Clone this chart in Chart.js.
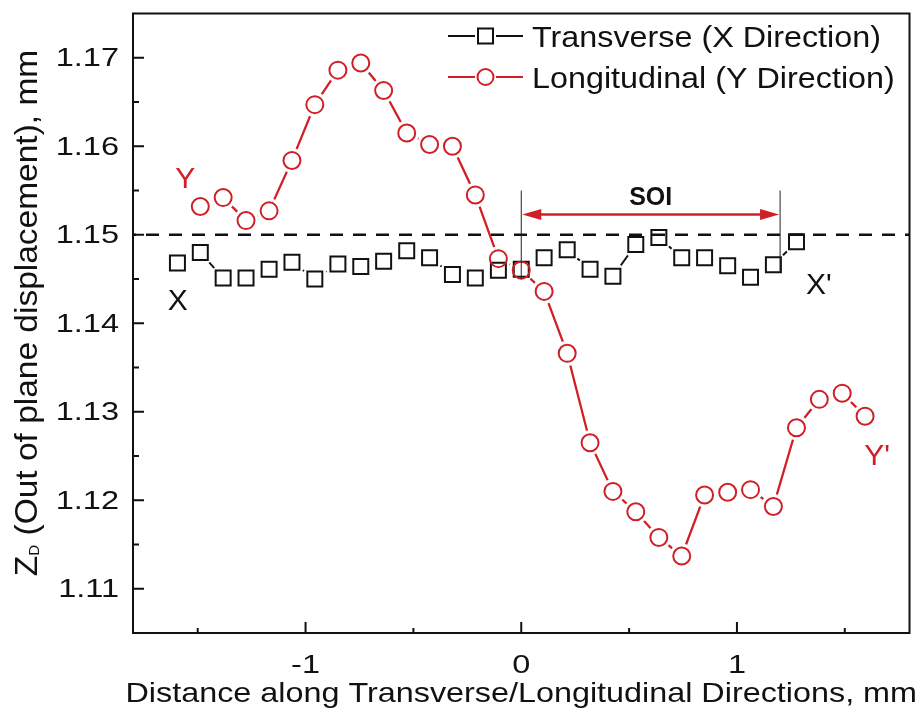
<!DOCTYPE html>
<html>
<head>
<meta charset="utf-8">
<script src="https://cdn.jsdelivr.net/npm/chart.js@4.4.1/dist/chart.umd.min.js"></script>
<style>
  html, body { margin: 0; padding: 0; background: #fff; }
  #wrap { width: 923px; height: 712px; position: relative; }
</style>
</head>
<body>
<div id="wrap"><canvas id="chart"></canvas></div>
<script>
// ── Data ───────────────────────────────────────────
const transX = [-1.594, -1.488, -1.382, -1.276, -1.169, -1.063, -0.957, -0.850, -0.744, -0.638,
                -0.531, -0.425, -0.319, -0.213, -0.106, 0, 0.106, 0.213, 0.319, 0.425,
                0.531, 0.638, 0.744, 0.850, 0.957, 1.063, 1.169, 1.276];
const transY = [1.1468, 1.1480, 1.1451, 1.1451, 1.1461, 1.1469, 1.1450, 1.1467, 1.1464, 1.1470,
                1.1482, 1.1474, 1.1455, 1.1451, 1.1460, 1.1461, 1.1474, 1.1483, 1.1461, 1.1453,
                1.1489, 1.1497, 1.1474, 1.1474, 1.1465, 1.1452, 1.1466, 1.1492];

const longX = [-1.488, -1.382, -1.276, -1.169, -1.063, -0.957, -0.850, -0.744, -0.638, -0.531,
               -0.425, -0.319, -0.213, -0.106, 0, 0.106, 0.213, 0.319, 0.425, 0.531,
               0.638, 0.744, 0.850, 0.957, 1.063, 1.169, 1.276, 1.382, 1.488, 1.594];
const longY = [1.1532, 1.1542, 1.1516, 1.1527, 1.1584, 1.1647, 1.1686, 1.1694, 1.1663, 1.1615,
               1.1602, 1.1600, 1.1545, 1.1473, 1.1460, 1.1436, 1.1366, 1.1265, 1.1210, 1.1187,
               1.1158, 1.1137, 1.1206, 1.1209, 1.1212, 1.1193, 1.1282, 1.1314, 1.1321, 1.1295];

const seriesNames = ['Transverse (X Direction)', 'Longitudinal (Y Direction)'];

const xMajor = [-1, 0, 1];
const xMinor = [-1.5, -0.5, 0.5, 1.5];
const yMajor = [1.11, 1.12, 1.13, 1.14, 1.15, 1.16, 1.17];
const yMinor = [1.115, 1.125, 1.135, 1.145, 1.155, 1.165];
const xTickLabels = ['-1', '0', '1'];
const yTickLabels = ['1.11', '1.12', '1.13', '1.14', '1.15', '1.16', '1.17'];

const refLevel = 1.15;          // dashed reference line
const soiRange = [0, 1.2];      // SOI span

const BLACK = '#111';
const RED = '#D01F26';
const FONT = '"Liberation Sans", Arial, sans-serif';

const pts = (xs, ys) => xs.map((x, i) => ({ x, y: ys[i] }));
const trans = pts(transX, transY);
const long = pts(longX, longY);

// text helper, sx = horizontal stretch
const txt = (ctx, s, x, y, o = {}) => {
  ctx.save();
  ctx.font = o.font || `26px ${FONT}`;
  ctx.fillStyle = o.color || BLACK;
  ctx.textAlign = o.align || 'left';
  ctx.textBaseline = 'alphabetic';
  ctx.translate(x, y);
  if (o.rot) ctx.rotate(o.rot);
  ctx.scale(o.sx || 1, 1);
  ctx.fillText(s, 0, 0);
  ctx.restore();
};

// halo datasets punch a gap in the lines around each symbol (Origin style)
const knockout = {
  id: 'knockout',
  beforeDatasetDraw(chart, args) {
    if (chart.data.datasets[args.index].halo) {
      chart.ctx.save();
      chart.ctx.globalCompositeOperation = 'destination-out';
    }
  },
  afterDatasetDraw(chart, args) {
    if (chart.data.datasets[args.index].halo) chart.ctx.restore();
  }
};

const decor = {
  id: 'decor',
  afterDatasetsDraw(chart) {
    const { ctx, chartArea: a, scales: { x, y } } = chart;
    ctx.save();
    // dashed reference line
    ctx.strokeStyle = BLACK;
    ctx.lineWidth = 2.5;
    ctx.setLineDash([13, 10]);
    ctx.lineDashOffset = 10;
    ctx.beginPath();
    ctx.moveTo(a.left, y.getPixelForValue(refLevel));
    ctx.lineTo(a.right, y.getPixelForValue(refLevel));
    ctx.stroke();
    ctx.setLineDash([]);

    // SOI bracket
    const x0 = x.getPixelForValue(soiRange[0]), x1 = x.getPixelForValue(soiRange[1]);
    ctx.lineWidth = 1;
    ctx.strokeStyle = '#222';
    ctx.beginPath();
    ctx.moveTo(x0, y.getPixelForValue(1.155)); ctx.lineTo(x0, y.getPixelForValue(1.145));
    ctx.moveTo(x1, y.getPixelForValue(1.155)); ctx.lineTo(x1, y.getPixelForValue(1.1458));
    ctx.stroke();

    const ay = y.getPixelForValue(1.1523), head = 20, hw = 5.5;
    ctx.strokeStyle = RED; ctx.fillStyle = RED; ctx.lineWidth = 2.5;
    ctx.beginPath(); ctx.moveTo(x0 + head - 2, ay); ctx.lineTo(x1 - head + 2, ay); ctx.stroke();
    ctx.beginPath(); ctx.moveTo(x0 + 1, ay); ctx.lineTo(x0 + head, ay - hw); ctx.lineTo(x0 + head, ay + hw); ctx.closePath(); ctx.fill();
    ctx.beginPath(); ctx.moveTo(x1 - 1, ay); ctx.lineTo(x1 - head, ay - hw); ctx.lineTo(x1 - head, ay + hw); ctx.closePath(); ctx.fill();
    ctx.restore();

    txt(ctx, 'SOI', (x0 + x1) / 2, y.getPixelForValue(1.1534), { font: `bold 25px ${FONT}`, align: 'center' });

    // end markers of the two scan lines
    txt(ctx, 'Y', x.getPixelForValue(-1.558), y.getPixelForValue(1.1553), { font: `30px ${FONT}`, color: RED, align: 'center' });
    txt(ctx, 'X', x.getPixelForValue(-1.593), y.getPixelForValue(1.1415), { font: `30px ${FONT}`, align: 'center' });
    txt(ctx, "X'", x.getPixelForValue(1.32), y.getPixelForValue(1.1433), { font: `30px ${FONT}` });
    txt(ctx, "Y'", x.getPixelForValue(1.59), y.getPixelForValue(1.124), { font: `30px ${FONT}`, color: RED });
  },
  afterDraw(chart) {
    const { ctx, chartArea: a, scales: { x, y } } = chart;
    ctx.save();
    ctx.strokeStyle = BLACK;
    ctx.lineWidth = 2;
    ctx.strokeRect(a.left, a.top, a.right - a.left, a.bottom - a.top);

    // inward ticks, left and bottom only
    ctx.beginPath();
    yMajor.forEach(v => { const p = y.getPixelForValue(v); ctx.moveTo(a.left, p); ctx.lineTo(a.left + 11, p); });
    yMinor.forEach(v => { const p = y.getPixelForValue(v); ctx.moveTo(a.left, p); ctx.lineTo(a.left + 6, p); });
    xMajor.forEach(v => { const p = x.getPixelForValue(v); ctx.moveTo(p, a.bottom); ctx.lineTo(p, a.bottom - 11); });
    xMinor.forEach(v => { const p = x.getPixelForValue(v); ctx.moveTo(p, a.bottom); ctx.lineTo(p, a.bottom - 5); });
    ctx.stroke();
    ctx.restore();

    const tickFont = `25px ${FONT}`;
    yMajor.forEach((v, i) => txt(ctx, yTickLabels[i], a.left - 14, y.getPixelForValue(v) + 8.5, { font: tickFont, align: 'right', sx: 1.3 }));
    xMajor.forEach((v, i) => txt(ctx, xTickLabels[i], x.getPixelForValue(v), a.bottom + 40, { font: tickFont, align: 'center', sx: 1.3 }));

    // axis titles
    txt(ctx, 'Distance along Transverse/Longitudinal Directions, mm', (a.left + a.right) / 2, 702,
        { font: `28px ${FONT}`, align: 'center', sx: 1.155 });

    ctx.save();
    ctx.translate(37, 313);
    ctx.rotate(-Math.PI / 2);
    ctx.scale(1.08, 1);
    ctx.fillStyle = BLACK;
    ctx.textBaseline = 'alphabetic';
    const big = `31px ${FONT}`, small = `14px ${FONT}`;
    const rest = ' (Out of plane displacement), mm';
    ctx.font = big; const wZ = ctx.measureText('Z').width, wR = ctx.measureText(rest).width;
    ctx.font = small; const wD = ctx.measureText('D').width;
    let sx0 = -(wZ + wD + wR) / 2;
    ctx.font = big; ctx.fillText('Z', sx0, 0);
    ctx.font = small; ctx.fillText('D', sx0 + wZ, 2);
    ctx.font = big; ctx.fillText(rest, sx0 + wZ + wD, 0);
    ctx.restore();

    // legend
    const rows = [
      { y: 36, color: BLACK, sym: 'rect', label: seriesNames[0] },
      { y: 77, color: RED, sym: 'circle', label: seriesNames[1] }
    ];
    rows.forEach(r => {
      ctx.save();
      ctx.strokeStyle = r.color;
      ctx.lineWidth = 2;
      ctx.beginPath();
      ctx.moveTo(448, r.y); ctx.lineTo(475, r.y);
      ctx.moveTo(496, r.y); ctx.lineTo(523, r.y);
      ctx.stroke();
      ctx.beginPath();
      if (r.sym === 'rect') ctx.rect(478, r.y - 7.5, 15, 15);
      else ctx.arc(485.5, r.y, 8, 0, Math.PI * 2);
      ctx.stroke();
      ctx.restore();
      txt(ctx, r.label, 532, r.y + 11, { font: `30px ${FONT}`, sx: 1.077 });
    });
  }
};

new Chart(document.getElementById('chart'), {
  type: 'line',
  data: {
    datasets: [
      { label: seriesNames[0], data: trans, borderColor: BLACK, borderWidth: 2, pointRadius: 0, order: 6 },
      { label: 'haloT', data: trans, halo: true, showLine: false, pointStyle: 'circle', pointRadius: 13.5,
        pointBackgroundColor: '#000', pointBorderWidth: 0, order: 5 },
      { label: seriesNames[1], data: long, borderColor: RED, borderWidth: 2.3, pointRadius: 0, order: 4 },
      { label: 'haloL', data: long, halo: true, showLine: false, pointStyle: 'circle', pointRadius: 12.5,
        pointBackgroundColor: '#000', pointBorderWidth: 0, order: 3 },
      { label: 'symT', data: trans, showLine: false, pointStyle: 'rect', pointRadius: 10.6,
        pointBorderColor: BLACK, pointBackgroundColor: 'rgba(0,0,0,0)', pointBorderWidth: 2, order: 2 },
      { label: 'symL', data: long, showLine: false, pointStyle: 'circle', pointRadius: 8.5,
        pointBorderColor: RED, pointBackgroundColor: 'rgba(0,0,0,0)', pointBorderWidth: 2, order: 1 }
    ]
  },
  options: {
    responsive: true,
    maintainAspectRatio: false,
    animation: false,
    layout: { padding: { left: 133, right: 13, top: 7, bottom: 79 } },
    plugins: { legend: { display: false }, tooltip: { enabled: false } },
    elements: { line: { tension: 0 } },
    scales: {
      x: { type: 'linear', min: -1.8, max: 1.8, display: false },
      y: { type: 'linear', min: 1.105, max: 1.175, display: false }
    }
  },
  plugins: [knockout, decor]
});
</script>
</body>
</html>
